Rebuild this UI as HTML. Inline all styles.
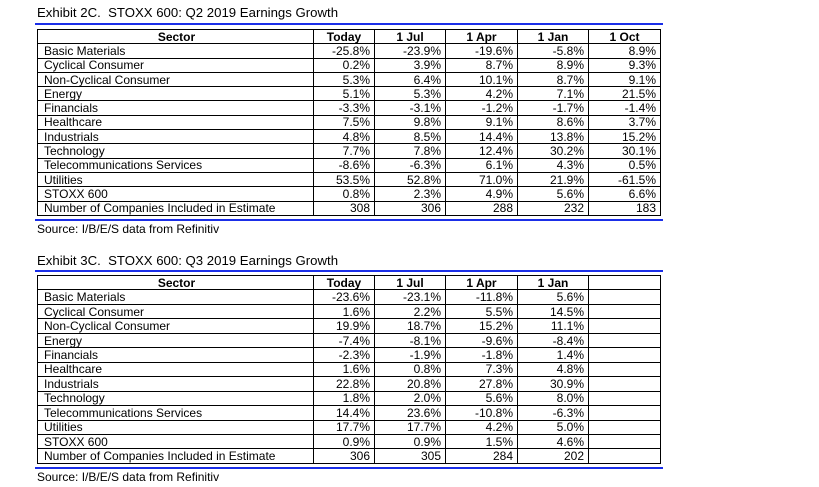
<!DOCTYPE html>
<html><head><meta charset="utf-8"><style>
html,body{margin:0;padding:0;background:#fff;width:819px;height:487px;overflow:hidden;position:relative;font-family:"Liberation Sans",Arial,sans-serif;color:#000}
.t{position:absolute;font-size:13.2px;left:37px}
.bl{position:absolute;left:35px;width:628px;height:2px;background:#1a2ee8}
.src{position:absolute;left:37px;font-size:12px}
table{position:absolute;left:37px;border-collapse:collapse;table-layout:fixed;font-size:12px}
td{border:1.3px solid #000;padding:0 4px;line-height:12px;white-space:nowrap;overflow:hidden;text-align:right}
td:first-child{text-align:left;padding-left:6px}
tr.h td{font-weight:bold;text-align:center}
</style></head><body>
<div class="t" style="top:5px">Exhibit 2C.&nbsp; STOXX 600: Q2 2019 Earnings Growth</div>
<div class="bl" style="top:23px"></div>
<table style="top:29px;width:623px;height:187px">
<colgroup><col style="width:276px"><col style="width:61px"><col style="width:71px"><col style="width:72px"><col style="width:71px"><col style="width:72px"></colgroup>
<tr class="h"><td style="text-align:center">Sector</td><td>Today</td><td>1 Jul</td><td>1 Apr</td><td>1 Jan</td><td>1 Oct</td></tr>
<tr><td>Basic Materials</td><td>-25.8%</td><td>-23.9%</td><td>-19.6%</td><td>-5.8%</td><td>8.9%</td></tr>
<tr><td>Cyclical Consumer</td><td>0.2%</td><td>3.9%</td><td>8.7%</td><td>8.9%</td><td>9.3%</td></tr>
<tr><td>Non-Cyclical Consumer</td><td>5.3%</td><td>6.4%</td><td>10.1%</td><td>8.7%</td><td>9.1%</td></tr>
<tr><td>Energy</td><td>5.1%</td><td>5.3%</td><td>4.2%</td><td>7.1%</td><td>21.5%</td></tr>
<tr><td>Financials</td><td>-3.3%</td><td>-3.1%</td><td>-1.2%</td><td>-1.7%</td><td>-1.4%</td></tr>
<tr><td>Healthcare</td><td>7.5%</td><td>9.8%</td><td>9.1%</td><td>8.6%</td><td>3.7%</td></tr>
<tr><td>Industrials</td><td>4.8%</td><td>8.5%</td><td>14.4%</td><td>13.8%</td><td>15.2%</td></tr>
<tr><td>Technology</td><td>7.7%</td><td>7.8%</td><td>12.4%</td><td>30.2%</td><td>30.1%</td></tr>
<tr><td>Telecommunications Services</td><td>-8.6%</td><td>-6.3%</td><td>6.1%</td><td>4.3%</td><td>0.5%</td></tr>
<tr><td>Utilities</td><td>53.5%</td><td>52.8%</td><td>71.0%</td><td>21.9%</td><td>-61.5%</td></tr>
<tr><td>STOXX 600</td><td>0.8%</td><td>2.3%</td><td>4.9%</td><td>5.6%</td><td>6.6%</td></tr>
<tr><td>Number of Companies Included in Estimate</td><td>308</td><td>306</td><td>288</td><td>232</td><td>183</td></tr>
</table>
<div class="bl" style="top:219px"></div>
<div class="src" style="top:222px">Source: I/B/E/S data from Refinitiv</div>

<div class="t" style="top:253px">Exhibit 3C.&nbsp; STOXX 600: Q3 2019 Earnings Growth</div>
<div class="bl" style="top:270px"></div>
<table style="top:275px;width:623px;height:189px">
<colgroup><col style="width:276px"><col style="width:61px"><col style="width:71px"><col style="width:72px"><col style="width:71px"><col style="width:72px"></colgroup>
<tr class="h"><td style="text-align:center">Sector</td><td>Today</td><td>1 Jul</td><td>1 Apr</td><td>1 Jan</td><td></td></tr>
<tr><td>Basic Materials</td><td>-23.6%</td><td>-23.1%</td><td>-11.8%</td><td>5.6%</td><td></td></tr>
<tr><td>Cyclical Consumer</td><td>1.6%</td><td>2.2%</td><td>5.5%</td><td>14.5%</td><td></td></tr>
<tr><td>Non-Cyclical Consumer</td><td>19.9%</td><td>18.7%</td><td>15.2%</td><td>11.1%</td><td></td></tr>
<tr><td>Energy</td><td>-7.4%</td><td>-8.1%</td><td>-9.6%</td><td>-8.4%</td><td></td></tr>
<tr><td>Financials</td><td>-2.3%</td><td>-1.9%</td><td>-1.8%</td><td>1.4%</td><td></td></tr>
<tr><td>Healthcare</td><td>1.6%</td><td>0.8%</td><td>7.3%</td><td>4.8%</td><td></td></tr>
<tr><td>Industrials</td><td>22.8%</td><td>20.8%</td><td>27.8%</td><td>30.9%</td><td></td></tr>
<tr><td>Technology</td><td>1.8%</td><td>2.0%</td><td>5.6%</td><td>8.0%</td><td></td></tr>
<tr><td>Telecommunications Services</td><td>14.4%</td><td>23.6%</td><td>-10.8%</td><td>-6.3%</td><td></td></tr>
<tr><td>Utilities</td><td>17.7%</td><td>17.7%</td><td>4.2%</td><td>5.0%</td><td></td></tr>
<tr><td>STOXX 600</td><td>0.9%</td><td>0.9%</td><td>1.5%</td><td>4.6%</td><td></td></tr>
<tr><td>Number of Companies Included in Estimate</td><td>306</td><td>305</td><td>284</td><td>202</td><td></td></tr>
</table>
<div class="bl" style="top:467px"></div>
<div class="src" style="top:470px">Source: I/B/E/S data from Refinitiv</div>
</body></html>
